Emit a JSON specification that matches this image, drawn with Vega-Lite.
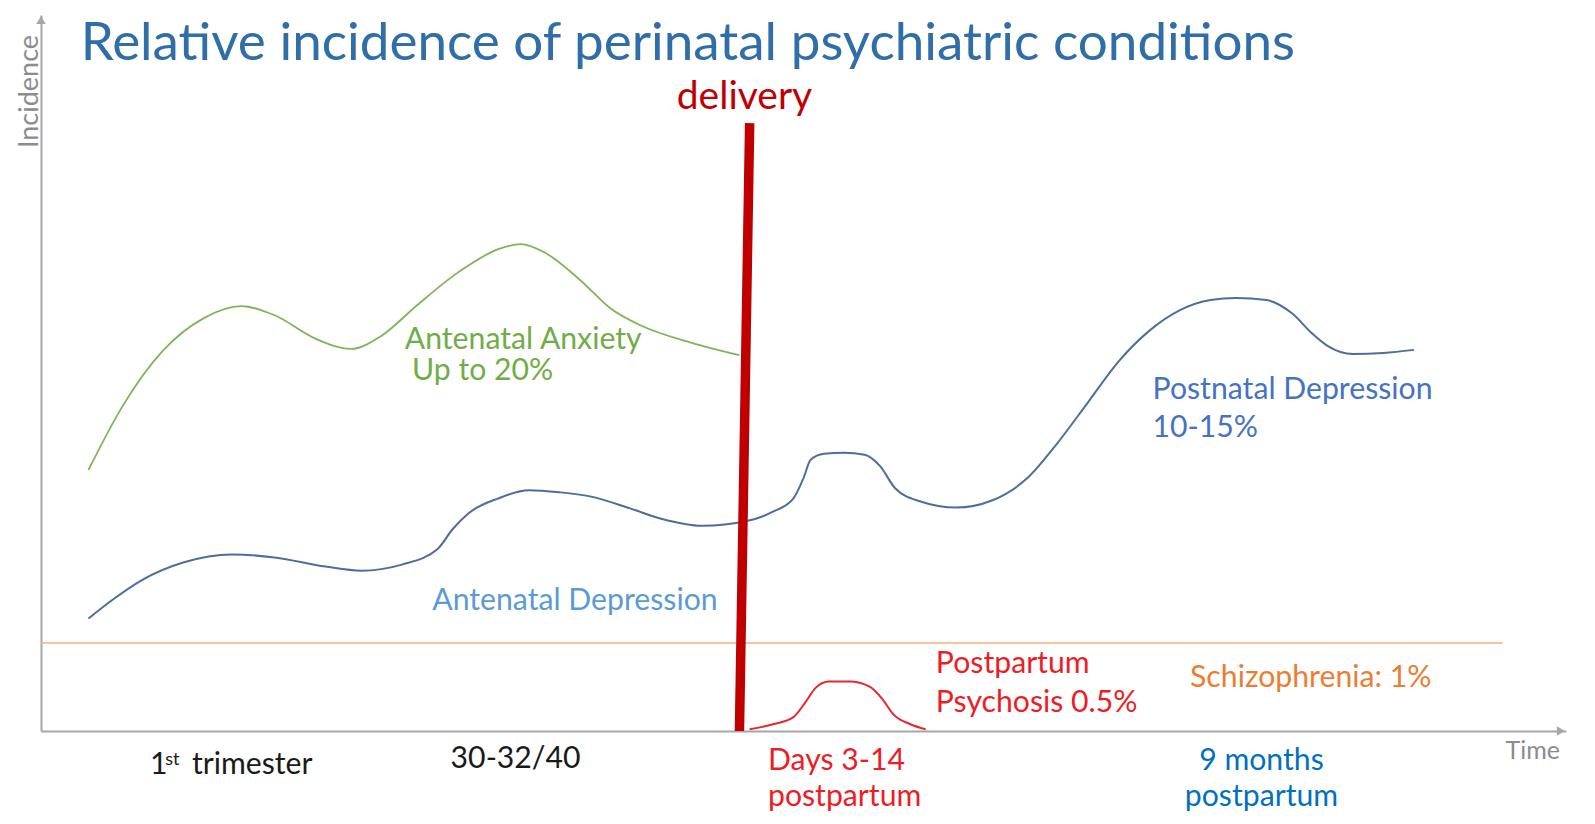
{
  "$schema": "https://vega.github.io/schema/vega-lite/v6.json",
  "width": 1525,
  "height": 716,
  "autosize": {"type": "none"},
  "padding": {"left": 41, "top": 15, "right": 29, "bottom": 93},
  "background": "white",
  "config": {"view": {"stroke": null}, "font": "Lato"},
  "datasets": {
    "curves": [
      {"series": "anxiety", "t": 3.11, "v": 36.45},
      {"series": "anxiety", "t": 5.32, "v": 45.27},
      {"series": "anxiety", "t": 7.98, "v": 53.08},
      {"series": "anxiety", "t": 10.65, "v": 57.63},
      {"series": "anxiety", "t": 13.12, "v": 59.33},
      {"series": "anxiety", "t": 15.32, "v": 58.06},
      {"series": "anxiety", "t": 17.99, "v": 54.79},
      {"series": "anxiety", "t": 20.32, "v": 53.36},
      {"series": "anxiety", "t": 22.33, "v": 55.21},
      {"series": "anxiety", "t": 24.66, "v": 59.47},
      {"series": "anxiety", "t": 27.33, "v": 64.02},
      {"series": "anxiety", "t": 29.99, "v": 67.29},
      {"series": "anxiety", "t": 31.46, "v": 68.0},
      {"series": "anxiety", "t": 33.0, "v": 66.86},
      {"series": "anxiety", "t": 35.33, "v": 63.03},
      {"series": "anxiety", "t": 37.33, "v": 59.05},
      {"series": "anxiety", "t": 39.34, "v": 56.63},
      {"series": "anxiety", "t": 42.67, "v": 54.22},
      {"series": "anxiety", "t": 45.8, "v": 52.51},
      {"series": "depression", "t": 3.11, "v": 15.71},
      {"series": "depression", "t": 4.65, "v": 18.27},
      {"series": "depression", "t": 6.65, "v": 21.12},
      {"series": "depression", "t": 9.32, "v": 23.53},
      {"series": "depression", "t": 12.52, "v": 24.66},
      {"series": "depression", "t": 15.32, "v": 24.24},
      {"series": "depression", "t": 18.66, "v": 22.96},
      {"series": "depression", "t": 20.99, "v": 22.39},
      {"series": "depression", "t": 23.66, "v": 23.24},
      {"series": "depression", "t": 25.99, "v": 25.38},
      {"series": "depression", "t": 27.0, "v": 28.21},
      {"series": "depression", "t": 28.0, "v": 30.35},
      {"series": "depression", "t": 29.99, "v": 32.49},
      {"series": "depression", "t": 31.99, "v": 33.62},
      {"series": "depression", "t": 34.0, "v": 33.34},
      {"series": "depression", "t": 36.0, "v": 32.77},
      {"series": "depression", "t": 38.67, "v": 31.06},
      {"series": "depression", "t": 40.67, "v": 29.64},
      {"series": "depression", "t": 43.34, "v": 28.65},
      {"series": "depression", "t": 46.34, "v": 29.36},
      {"series": "depression", "t": 48.0, "v": 30.63},
      {"series": "depression", "t": 49.34, "v": 32.49},
      {"series": "depression", "t": 50.0, "v": 35.32},
      {"series": "depression", "t": 50.47, "v": 37.88},
      {"series": "depression", "t": 51.34, "v": 38.73},
      {"series": "depression", "t": 52.68, "v": 38.87},
      {"series": "depression", "t": 54.01, "v": 38.59},
      {"series": "depression", "t": 55.01, "v": 37.03},
      {"series": "depression", "t": 56.01, "v": 33.9},
      {"series": "depression", "t": 57.68, "v": 32.05},
      {"series": "depression", "t": 60.01, "v": 31.2},
      {"series": "depression", "t": 62.35, "v": 32.19},
      {"series": "depression", "t": 64.68, "v": 35.32},
      {"series": "depression", "t": 66.68, "v": 40.29},
      {"series": "depression", "t": 68.68, "v": 45.98},
      {"series": "depression", "t": 70.68, "v": 51.66},
      {"series": "depression", "t": 72.69, "v": 55.92},
      {"series": "depression", "t": 74.69, "v": 58.77},
      {"series": "depression", "t": 76.69, "v": 60.18},
      {"series": "depression", "t": 78.36, "v": 60.47},
      {"series": "depression", "t": 80.36, "v": 60.18},
      {"series": "depression", "t": 82.03, "v": 58.34},
      {"series": "depression", "t": 83.36, "v": 55.5},
      {"series": "depression", "t": 84.36, "v": 53.79},
      {"series": "depression", "t": 86.03, "v": 52.65},
      {"series": "depression", "t": 88.03, "v": 52.8},
      {"series": "depression", "t": 90.03, "v": 53.23},
      {"series": "psychosis", "t": 46.47, "v": 0.24},
      {"series": "psychosis", "t": 48.0, "v": 0.94},
      {"series": "psychosis", "t": 49.34, "v": 1.94},
      {"series": "psychosis", "t": 50.14, "v": 4.06},
      {"series": "psychosis", "t": 50.81, "v": 6.06},
      {"series": "psychosis", "t": 51.67, "v": 6.91},
      {"series": "psychosis", "t": 53.01, "v": 6.91},
      {"series": "psychosis", "t": 54.34, "v": 6.2},
      {"series": "psychosis", "t": 55.21, "v": 4.36},
      {"series": "psychosis", "t": 55.88, "v": 2.36},
      {"series": "psychosis", "t": 57.01, "v": 0.94},
      {"series": "psychosis", "t": 58.01, "v": 0.24},
      {"series": "schizophrenia", "t": 0.0, "v": 12.3},
      {"series": "schizophrenia", "t": 95.83, "v": 12.3},
      {"series": "delivery", "t": 45.8, "v": 0.0},
      {"series": "delivery", "t": 46.47, "v": 84.9},
      {"series": "arrow-right", "t": 99.67, "v": 0.0},
      {"series": "arrow-up", "t": 0.0, "v": 99.3}
    ],
    "labels": [
      {"text": "Relative incidence of perinatal psychiatric conditions", "t": 2.6, "v": 93.7, "kind": "title"},
      {"text": "delivery", "t": 46.13, "v": 86.85, "kind": "delivery"},
      {"text": "Antenatal Anxiety", "t": 23.86, "v": 53.3, "kind": "anxiety"},
      {"text": "Up to 20%", "t": 24.33, "v": 49.05, "kind": "anxiety"},
      {"text": "Antenatal Depression", "t": 25.66, "v": 16.86, "kind": "antenatal"},
      {"text": "Postnatal Depression", "t": 72.89, "v": 46.41, "kind": "postnatal"},
      {"text": "10-15%", "t": 72.89, "v": 41.0, "kind": "postnatal"},
      {"text": "Postpartum", "t": 58.68, "v": 8.04, "kind": "psychosis"},
      {"text": "Psychosis 0.5%", "t": 58.68, "v": 2.64, "kind": "psychosis"},
      {"text": "Schizophrenia: 1%", "t": 75.35, "v": 6.2, "kind": "schizophrenia"},
      {"text": "1", "t": 7.15, "v": -6.0, "kind": "timeline"},
      {"text": "st", "t": 8.15, "v": -4.8, "kind": "sup"},
      {"text": "trimester", "t": 9.9, "v": -6.0, "kind": "timeline"},
      {"text": "30-32/40", "t": 26.86, "v": -5.17, "kind": "timeline"},
      {"text": "Days 3-14", "t": 47.67, "v": -5.45, "kind": "days"},
      {"text": "postpartum", "t": 47.67, "v": -10.42, "kind": "days"},
      {"text": "9 months", "t": 80.03, "v": -5.45, "kind": "months"},
      {"text": "postpartum", "t": 80.03, "v": -10.42, "kind": "months"}
    ]
  },
  "encoding": {
    "x": {
      "field": "t", "type": "quantitative",
      "scale": {"domain": [0, 100], "nice": false, "zero": false},
      "axis": {
        "domain": true, "domainColor": "#A6A6A6", "domainWidth": 2,
        "ticks": false, "labels": false, "grid": false,
        "title": "Time", "titleX": 1464, "titleY": 27,
        "titleAlign": "left", "titleBaseline": "alphabetic",
        "titleFont": "Lato", "titleFontSize": 25, "titleFontWeight": "normal",
        "titleColor": "#8C8C8C"
      }
    },
    "y": {
      "field": "v", "type": "quantitative",
      "scale": {"domain": [0, 100], "nice": false, "zero": false},
      "axis": {
        "domain": true, "domainColor": "#A6A6A6", "domainWidth": 2,
        "ticks": false, "labels": false, "grid": false,
        "title": "Incidence", "titleX": -4, "titleY": 76, "titleAngle": 270,
        "titleAlign": "center", "titleBaseline": "alphabetic",
        "titleFont": "Lato", "titleFontSize": 27, "titleFontWeight": "normal",
        "titleColor": "#8C8C8C"
      }
    }
  },
  "layer": [
    {
      "data": {"name": "curves"},
      "transform": [{"filter": "datum.series === 'schizophrenia'"}],
      "mark": {"type": "line", "color": "#F4B183", "strokeWidth": 1.6},
      "encoding": {}
    },
    {
      "data": {"name": "curves"},
      "transform": [{"filter": "datum.series === 'anxiety'"}],
      "mark": {"type": "line", "color": "#7EB55B", "strokeWidth": 1.8, "interpolate": "monotone"},
      "encoding": {}
    },
    {
      "data": {"name": "curves"},
      "transform": [{"filter": "datum.series === 'depression'"}],
      "mark": {"type": "line", "color": "#4C6E9E", "strokeWidth": 2, "interpolate": "monotone"},
      "encoding": {}
    },
    {
      "data": {"name": "curves"},
      "transform": [{"filter": "datum.series === 'psychosis'"}],
      "mark": {"type": "line", "color": "#E8262B", "strokeWidth": 2, "interpolate": "monotone"},
      "encoding": {}
    },
    {
      "data": {"name": "curves"},
      "transform": [{"filter": "datum.series === 'delivery'"}],
      "mark": {"type": "line", "color": "#C00000", "strokeWidth": 9.5, "strokeCap": "butt"},
      "encoding": {}
    },
    {
      "data": {"name": "curves"},
      "transform": [{"filter": "datum.series === 'arrow-right'"}],
      "mark": {"type": "point", "shape": "triangle-right", "filled": true, "color": "#A6A6A6", "size": 90, "opacity": 1}
    },
    {
      "data": {"name": "curves"},
      "transform": [{"filter": "datum.series === 'arrow-up'"}],
      "mark": {"type": "point", "shape": "triangle-up", "filled": true, "color": "#A6A6A6", "size": 90, "opacity": 1}
    },
    {
      "data": {"name": "labels"},
      "transform": [{"filter": "datum.kind === 'title'"}],
      "mark": {"type": "text", "align": "left", "baseline": "alphabetic", "font": "Lato", "fontSize": 53, "color": "#2F6EA8"},
      "encoding": {"text": {"field": "text"}}
    },
    {
      "data": {"name": "labels"},
      "transform": [{"filter": "datum.kind === 'delivery'"}],
      "mark": {"type": "text", "align": "center", "baseline": "alphabetic", "font": "Lato", "fontSize": 39, "color": "#C00000"},
      "encoding": {"text": {"field": "text"}}
    },
    {
      "data": {"name": "labels"},
      "transform": [{"filter": "datum.kind === 'anxiety'"}],
      "mark": {"type": "text", "align": "left", "baseline": "alphabetic", "font": "Lato", "fontSize": 30.2, "color": "#70AD47"},
      "encoding": {"text": {"field": "text"}}
    },
    {
      "data": {"name": "labels"},
      "transform": [{"filter": "datum.kind === 'antenatal'"}],
      "mark": {"type": "text", "align": "left", "baseline": "alphabetic", "font": "Lato", "fontSize": 30.2, "color": "#5B9BD5"},
      "encoding": {"text": {"field": "text"}}
    },
    {
      "data": {"name": "labels"},
      "transform": [{"filter": "datum.kind === 'postnatal'"}],
      "mark": {"type": "text", "align": "left", "baseline": "alphabetic", "font": "Lato", "fontSize": 30.2, "color": "#4472C4"},
      "encoding": {"text": {"field": "text"}}
    },
    {
      "data": {"name": "labels"},
      "transform": [{"filter": "datum.kind === 'psychosis' || datum.kind === 'days'"}],
      "mark": {"type": "text", "align": "left", "baseline": "alphabetic", "font": "Lato", "fontSize": 30.2, "color": "#EE1C25"},
      "encoding": {"text": {"field": "text"}}
    },
    {
      "data": {"name": "labels"},
      "transform": [{"filter": "datum.kind === 'schizophrenia'"}],
      "mark": {"type": "text", "align": "left", "baseline": "alphabetic", "font": "Lato", "fontSize": 30.2, "color": "#ED7D31"},
      "encoding": {"text": {"field": "text"}}
    },
    {
      "data": {"name": "labels"},
      "transform": [{"filter": "datum.kind === 'timeline'"}],
      "mark": {"type": "text", "align": "left", "baseline": "alphabetic", "font": "Lato", "fontSize": 30.2, "color": "#1A1A1A"},
      "encoding": {"text": {"field": "text"}}
    },
    {
      "data": {"name": "labels"},
      "transform": [{"filter": "datum.kind === 'sup'"}],
      "mark": {"type": "text", "align": "left", "baseline": "alphabetic", "font": "Lato", "fontSize": 18, "color": "#1A1A1A"},
      "encoding": {"text": {"field": "text"}}
    },
    {
      "data": {"name": "labels"},
      "transform": [{"filter": "datum.kind === 'months'"}],
      "mark": {"type": "text", "align": "center", "baseline": "alphabetic", "font": "Lato", "fontSize": 30.2, "color": "#0070C0"},
      "encoding": {"text": {"field": "text"}}
    }
  ]
}
